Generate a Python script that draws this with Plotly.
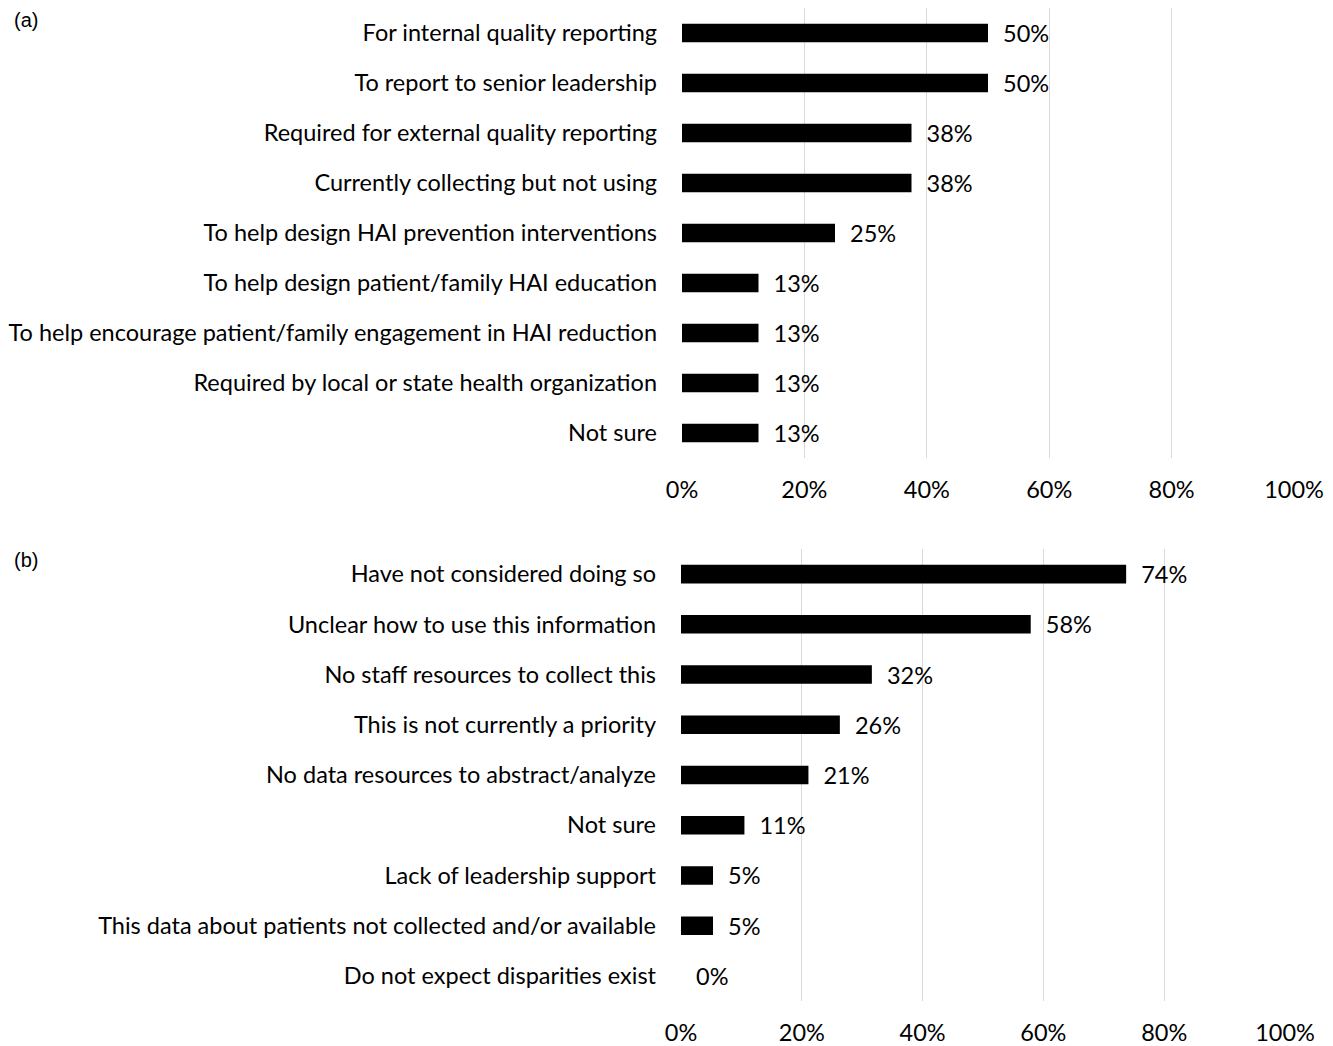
import plotly.graph_objects as go

a_categories = [
    "For internal quality reporting",
    "To report to senior leadership",
    "Required for external quality reporting",
    "Currently collecting but not using",
    "To help design HAI prevention interventions",
    "To help design patient/family HAI education",
    "To help encourage patient/family engagement in HAI reduction",
    "Required by local or state health organization",
    "Not sure",
]
a_values = [0.50, 0.50, 0.375, 0.375, 0.25, 0.125, 0.125, 0.125, 0.125]

b_categories = [
    "Have not considered doing so",
    "Unclear how to use this information",
    "No staff resources to collect this",
    "This is not currently a priority",
    "No data resources to abstract/analyze",
    "Not sure",
    "Lack of leadership support",
    "This data about patients not collected and/or available",
    "Do not expect disparities exist",
]
b_values = [0.737, 0.579, 0.316, 0.263, 0.211, 0.105, 0.053, 0.053, 0.0]

x_ticks = [0, 0.2, 0.4, 0.6, 0.8, 1.0]
x_ticklabels = ["0%", "20%", "40%", "60%", "80%", "100%"]

FONT = "Lato"
FS = 23.5
W, H = 1333, 1046

fig = go.Figure()
for cats, vals, xa, ya in [(a_categories, a_values, "x", "y"),
                           (b_categories, b_values, "x2", "y2")]:
    fig.add_trace(go.Bar(
        y=cats, x=vals, orientation="h",
        marker=dict(color="black", line=dict(width=0)),
        texttemplate="\u00a0\u00a0%{x:.0%}", textposition="outside",
        constraintext="none",
        textfont=dict(family=FONT, size=FS, color="black"),
        cliponaxis=False, xaxis=xa, yaxis=ya, showlegend=False,
        hoverinfo="skip",
    ))

def xax(domain, anchor):
    return dict(
        domain=domain, anchor=anchor, range=[0, 1],
        tickvals=x_ticks, ticktext=x_ticklabels,
        showgrid=True, gridcolor="#d9d9d9", gridwidth=1,
        zeroline=False, showline=False,
        ticks="outside", ticklen=11, tickcolor="rgba(0,0,0,0)",
        tickfont=dict(family=FONT, size=FS, color="black"),
        fixedrange=True, automargin=False,
    )

def yax(domain, anchor):
    return dict(
        domain=domain, anchor=anchor, autorange="reversed",
        showgrid=False, zeroline=False, showline=False,
        ticks="", ticklabelstandoff=24,
        tickfont=dict(family=FONT, size=FS, color="black"),
        fixedrange=True, automargin=False,
    )

fig.update_layout(
    width=W, height=H,
    margin=dict(l=0, r=0, t=0, b=0, autoexpand=False),
    paper_bgcolor="white", plot_bgcolor="white",
    bargap=0.63,
    xaxis=xax([682 / W, 1294 / W], "y"),
    yaxis=yax([1 - 458 / H, 1 - 8 / H], "x"),
    xaxis2=xax([681 / W, 1285 / W], "y2"),
    yaxis2=yax([1 - 1001 / H, 1 - 549 / H], "x2"),
    annotations=[
        dict(text="(a)", x=12 / W, y=1 - 20 / H, xref="paper", yref="paper",
             xanchor="left", yanchor="middle", showarrow=False,
             font=dict(family="Liberation Sans", size=20, color="black")),
        dict(text="(b)", x=12 / W, y=1 - 560 / H, xref="paper", yref="paper",
             xanchor="left", yanchor="middle", showarrow=False,
             font=dict(family="Liberation Sans", size=20, color="black")),
    ],
)

fig.write_html(
    "out.html",
    config={"displayModeBar": False},
    post_script="document.body.style.margin='0';document.body.style.overflow='hidden';",
)
